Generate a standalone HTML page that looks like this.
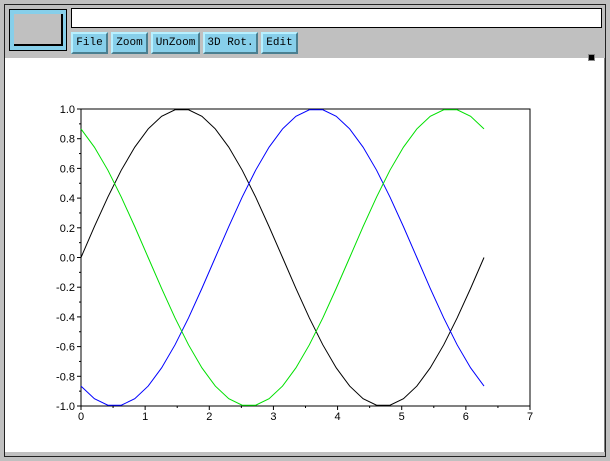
<!DOCTYPE html>
<html><head><meta charset="utf-8"><style>
body{margin:0;width:610px;height:461px;background:#c0c0c0;position:relative;overflow:hidden;font-family:"Liberation Sans",sans-serif}
.abs{position:absolute;box-sizing:border-box}
.btn{position:absolute;top:32px;height:22px;background:#87cfea;border-top:2px solid #b8f0ff;border-left:2px solid #b8f0ff;border-right:2px solid #4a7f90;border-bottom:2px solid #4a7f90;font:11px "Liberation Mono","DejaVu Sans Mono",monospace;text-align:center;line-height:18px;color:#000;box-sizing:border-box}
</style></head><body>
<div class="abs" style="left:4px;top:4px;width:602px;height:453px;border:1px solid #222"></div>
<div class="abs" style="left:9px;top:9px;width:58px;height:42px;background:#87cfea;border:1px solid #000">
 <div class="abs" style="left:4px;top:4px;width:49px;height:32px;background:#c0c0c0;border-right:2px solid #000;border-bottom:2px solid #000"></div>
</div>
<div class="abs" style="left:71px;top:8px;width:531px;height:20px;background:#fff;border:1px solid #000"></div>
<div class="btn" style="left:71px;width:37px">File</div>
<div class="btn" style="left:111px;width:37px">Zoom</div>
<div class="btn" style="left:151px;width:49px">UnZoom</div>
<div class="btn" style="left:203px;width:55px">3D Rot.</div>
<div class="btn" style="left:261px;width:37px">Edit</div>
<svg class="abs" style="left:5px;top:58px" width="600" height="394" viewBox="5 58 600 394">
<rect x="5" y="58" width="600" height="394" fill="#fff"/>
<line x1="605" y1="58" x2="605" y2="452" stroke="#000"/>
<g id="chart"></g>
</svg>
<div class="abs" style="left:588px;top:54px;width:7px;height:7px;background:#000;border:1px solid #888;z-index:2"></div>
<script>
const xTicks=[0,1,2,3,4,5,6,7];
const yTicks=[-1.0,-0.8,-0.6,-0.4,-0.2,0.0,0.2,0.4,0.6,0.8,1.0];
const xs=[0,0.209,0.419,0.628,0.838,1.047,1.257,1.466,1.676,1.885,2.094,2.304,2.513,2.723,2.932,3.142,3.351,3.56,3.77,3.979,4.189,4.398,4.608,4.817,5.027,5.236,5.445,5.655,5.864,6.074,6.283];
const blackSeries=[0,.208,.407,.588,.743,.866,.951,.995,.995,.951,.866,.743,.588,.407,.208,0,-.208,-.407,-.588,-.743,-.866,-.951,-.995,-.995,-.951,-.866,-.743,-.588,-.407,-.208,0];
const blueSeries=[-.866,-.951,-.995,-.995,-.951,-.866,-.743,-.588,-.407,-.208,0,.208,.407,.588,.743,.866,.951,.995,.995,.951,.866,.743,.588,.407,.208,0,-.208,-.407,-.588,-.743,-.866];
const greenSeries=[.866,.743,.588,.407,.208,0,-.208,-.407,-.588,-.743,-.866,-.951,-.995,-.995,-.951,-.866,-.743,-.588,-.407,-.208,0,.208,.407,.588,.743,.866,.951,.995,.995,.951,.866];
const NS='http://www.w3.org/2000/svg';
const g=document.getElementById('chart');
const X0=81,X1=530,Y0=406,Y1=109;
const sx=v=>X0+(v-0)/(7-0)*(X1-X0);
const sy=v=>Y0-(v+1)/2*(Y0-Y1);
function mk(t,a){const e=document.createElementNS(NS,t);for(const k in a)e.setAttribute(k,a[k]);g.appendChild(e);return e;}
const box=mk('rect',{x:X0,y:Y1,width:X1-X0,height:Y0-Y1,fill:'none',stroke:'#000'});


xTicks.forEach((v,i)=>{
 const t=mk('line',{x1:sx(v),y1:Y0,x2:sx(v),y2:Y0+4,stroke:'#000'});
 
 
 if(i<xTicks.length-1){const m=mk('line',{x1:sx(v+0.5),y1:Y0,x2:sx(v+0.5),y2:Y0+2,stroke:'#000'});
 
 }
 const l=mk('text',{x:sx(v),y:Y0+14,'text-anchor':'middle','font-size':'11','font-family':'Liberation Sans, sans-serif'});
 l.textContent=String(v);
 
 
});
yTicks.forEach((v,i)=>{
 const t=mk('line',{x1:X0-4,y1:sy(v),x2:X0,y2:sy(v),stroke:'#000'});
 
 
 if(i<yTicks.length-1){const m=mk('line',{x1:X0-2,y1:sy(v+0.1),x2:X0,y2:sy(v+0.1),stroke:'#000'});
 
 }
 const l=mk('text',{x:X0-6,y:sy(v)+4,'text-anchor':'end','font-size':'11','font-family':'Liberation Sans, sans-serif'});
 l.textContent=v.toFixed(1);
 
 
});
[[blackSeries,'#000','black-curve'],[blueSeries,'#0000ff','blue-curve'],[greenSeries,'#00e000','green-curve']].forEach(([s,c,n])=>{
 const p=mk('polyline',{points:s.map((v,i)=>sx(xs[i])+','+sy(v)).join(' '),fill:'none',stroke:c,'stroke-width':'1'});
 
 
});
</script>
</body></html>
